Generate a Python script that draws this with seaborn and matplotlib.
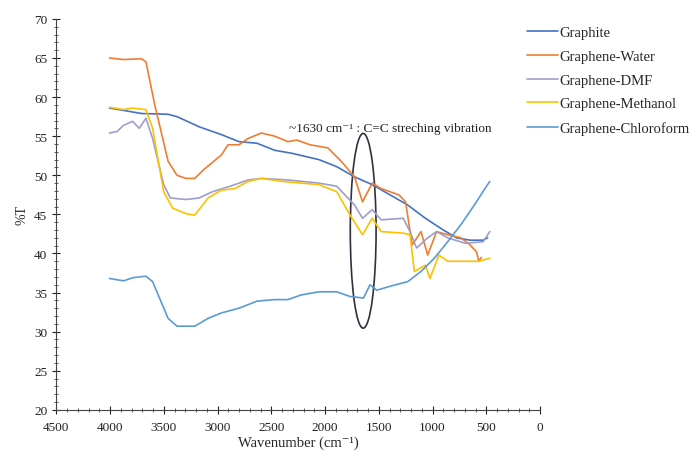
import numpy as np
import pandas as pd
import matplotlib
matplotlib.use("Agg")
import matplotlib.pyplot as plt
from matplotlib.patches import Ellipse
from matplotlib.ticker import MultipleLocator
import seaborn as sns

# FTIR spectra (wavenumber cm^-1, %T)
graphite_x = [4005, 3707, 3460, 3377, 3171, 2964, 2800, 2634, 2469, 2304, 2056, 1891,
              1726, 1561, 1396, 1231, 1066, 900, 776, 652, 529, 488]
graphite_y = [58.6, 57.9, 57.8, 57.5, 56.2, 55.2, 54.3, 54.1, 53.2, 52.8, 52.0, 51.1,
              49.8, 48.8, 47.5, 46.2, 44.5, 43.0, 42.0, 41.7, 41.7, 42.0]

water_x = [4005, 3873, 3707, 3666, 3584, 3460, 3377, 3295, 3212, 3130, 2964, 2902, 2800,
           2717, 2593, 2469, 2345, 2263, 2139, 1974, 1850, 1726, 1651, 1561, 1478, 1396,
           1313, 1251, 1189, 1107, 1045, 962, 859, 735, 652, 590, 570, 545]
water_y = [65.0, 64.8, 64.9, 64.5, 59.0, 51.8, 50.0, 49.6, 49.6, 50.7, 52.6, 53.9, 53.9,
           54.7, 55.4, 55.0, 54.3, 54.5, 53.9, 53.5, 51.8, 49.8, 46.6, 49.0, 48.3, 47.9,
           47.5, 46.6, 41.1, 42.8, 39.8, 42.8, 42.4, 42.0, 41.1, 40.2, 39.0, 39.5]

dmf_x = [4005, 3935, 3873, 3790, 3728, 3666, 3604, 3501, 3439, 3295, 3171, 3047, 2882,
         2717, 2593, 2345, 2056, 1891, 1726, 1651, 1561, 1478, 1272, 1210, 1148, 1045,
         962, 859, 694, 529, 467]
dmf_y = [55.4, 55.6, 56.4, 56.9, 56.0, 57.3, 54.7, 48.8, 47.1, 46.9, 47.1, 47.9, 48.6,
         49.4, 49.6, 49.4, 49.0, 48.6, 46.2, 44.5, 45.6, 44.3, 44.5, 42.8, 40.7, 42.0,
         42.8, 42.0, 41.3, 41.5, 42.8]

methanol_x = [4005, 3873, 3790, 3666, 3604, 3501, 3418, 3295, 3212, 3088, 2964, 2840,
              2717, 2593, 2386, 2056, 1891, 1767, 1651, 1561, 1478, 1272, 1210, 1169,
              1066, 1024, 941, 859, 735, 570, 467]
methanol_y = [58.7, 58.4, 58.6, 58.4, 56.0, 47.9, 45.8, 45.1, 44.9, 47.1, 48.1, 48.3,
              49.2, 49.6, 49.2, 48.8, 47.9, 44.9, 42.4, 44.5, 42.8, 42.6, 42.4, 37.7,
              38.5, 36.8, 39.8, 39.0, 39.0, 39.0, 39.4]

chloro_x = [4005, 3873, 3790, 3666, 3604, 3460, 3377, 3212, 3088, 2964, 2800, 2634, 2469,
            2345, 2221, 2056, 1891, 1767, 1643, 1581, 1519, 1396, 1231, 1107, 983, 859,
            735, 611, 488, 467]
chloro_y = [36.8, 36.5, 36.9, 37.1, 36.4, 31.7, 30.7, 30.7, 31.7, 32.4, 33.0, 33.9, 34.1,
            34.1, 34.7, 35.1, 35.1, 34.5, 34.3, 36.0, 35.3, 35.8, 36.4, 37.7, 39.4, 41.5,
            43.7, 46.2, 48.8, 49.2]

series = ["Graphite", "Graphene-Water", "Graphene-DMF", "Graphene-Methanol", "Graphene-Chloroform"]
colors = ["#4472C4", "#ED7D31", "#9E9ECC", "#FFC000", "#5B9BD5"]

frames = []
for name, xs, ys in zip(series,
                        [graphite_x, water_x, dmf_x, methanol_x, chloro_x],
                        [graphite_y, water_y, dmf_y, methanol_y, chloro_y]):
    frames.append(pd.DataFrame({"wavenumber": xs, "T": ys, "sample": name}))
df = pd.concat(frames, ignore_index=True)

sns.set_theme(style="ticks")
plt.rcParams["font.family"] = ["Liberation Serif", "DejaVu Serif"]

fig = plt.figure(figsize=(6.95, 4.52), dpi=100)
ax = fig.add_axes([0.081, 0.091, 0.696, 0.865])

sns.lineplot(data=df, x="wavenumber", y="T", hue="sample", hue_order=series,
             palette=colors, sort=False, linewidth=1.2, ax=ax)

# band marker around ~1630 cm-1
ax.add_patch(Ellipse((1645, 42.9), 240, 24.9, fill=False, edgecolor="#2F3142", linewidth=1.2))
ax.text(2335, 56.0, "~1630 cm⁻¹ : C=C streching vibration", fontsize=9.5,
        color="#222222", va="center", ha="left")

ax.set_xlim(4500, 0)
ax.set_ylim(20, 70)
ax.xaxis.set_major_locator(MultipleLocator(500))
ax.xaxis.set_minor_locator(MultipleLocator(100))
ax.yaxis.set_major_locator(MultipleLocator(5))
ax.yaxis.set_minor_locator(MultipleLocator(1))
ax.tick_params(which="major", direction="inout", length=6, width=0.8, labelsize=9.5,
               colors="#222222")
ax.tick_params(axis="x", which="major", pad=5)
ax.tick_params(which="minor", direction="inout", length=3, width=0.6, colors="#444444")
for s in ["top", "right"]:
    ax.spines[s].set_visible(False)
for s in ["left", "bottom"]:
    ax.spines[s].set_color("#444444")
    ax.spines[s].set_linewidth(0.8)

ax.set_xlabel("Wavenumber (cm⁻¹)", fontsize=10.5, labelpad=1.5)
ax.set_ylabel("%T", fontsize=10, labelpad=4)

ax.legend(loc="upper left", bbox_to_anchor=(0.75, 0.953), bbox_transform=fig.transFigure,
          frameon=False, fontsize=10.5, handlelength=2.1, handletextpad=0.1,
          labelspacing=0.72, borderaxespad=0)

fig.savefig("out.png", dpi=100)
